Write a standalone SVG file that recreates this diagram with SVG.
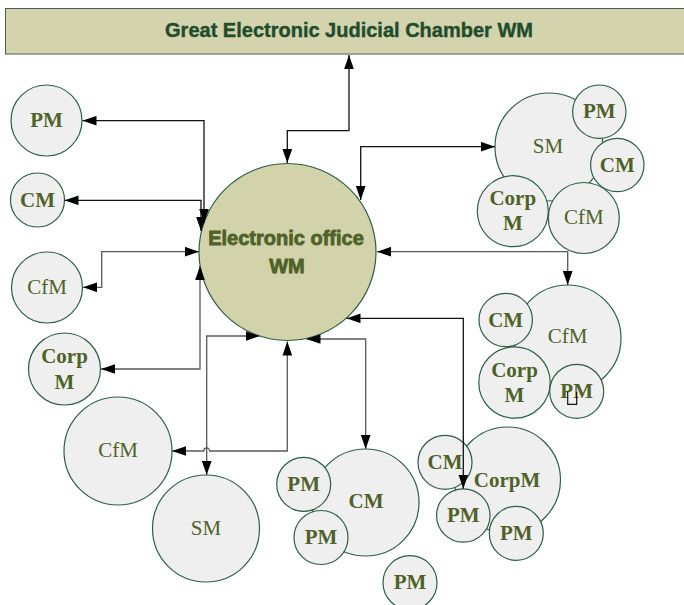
<svg xmlns="http://www.w3.org/2000/svg" width="684" height="605" viewBox="0 0 684 605">
<style>
.n{fill:#efefef;stroke:#2f5e44;stroke-width:1.2}
.c{fill:#d2d3ab;stroke:#2f5e44;stroke-width:1.2}
.t{font-family:"Liberation Serif","Times New Roman",serif;font-size:21px;fill:#4f6228;text-anchor:middle}
.b{font-weight:bold}
.k{fill:none;stroke:#111;stroke-width:1.3;marker-start:url(#a);marker-end:url(#a)}
.g{stroke:#5a5a5a}
</style>
<defs>
<marker id="a" markerUnits="userSpaceOnUse" markerWidth="14" markerHeight="10" refX="13" refY="4.5" orient="auto-start-reverse" viewBox="0 0 13 9">
<path d="M0,0 L13,4.5 L0,9 z" fill="#000"/>
</marker>
</defs>
<rect width="684" height="605" fill="#fff"/>

<g id="chamber">
<rect x="5.5" y="8.5" width="680" height="45.5" fill="#d3d3ad" stroke="#4c5f4c" stroke-width="1"/>
<text x="349" y="37.3" font-family="'Liberation Sans',Arial,sans-serif" font-weight="bold" font-size="20" fill="#1f4d2c" stroke="#1f4d2c" stroke-width="0.4" text-anchor="middle">Great Electronic Judicial Chamber WM</text>
</g>

<g id="office">
<circle class="c" cx="287.5" cy="252" r="88.5"/>
<text x="286" y="245" font-family="'Liberation Sans',Arial,sans-serif" font-weight="bold" font-size="20" fill="#4f6228" stroke="#4f6228" stroke-width="0.8" text-anchor="middle">Electronic office</text>
<text x="287" y="273" font-family="'Liberation Sans',Arial,sans-serif" font-weight="bold" font-size="20" fill="#4f6228" stroke="#4f6228" stroke-width="0.8" text-anchor="middle">WM</text>
</g>

<g id="left-pm"><circle class="n" cx="46.5" cy="120.5" r="35.5"/><text class="t b" x="46.5" y="127">PM</text></g>
<g id="left-cm"><circle class="n" cx="37.5" cy="200" r="27"/><text class="t b" x="37.5" y="207">CM</text></g>
<g id="left-cfm"><circle class="n" cx="47" cy="287.5" r="35.5"/><text class="t" x="47" y="294">CfM</text></g>
<g id="left-corpm"><circle class="n" cx="64.5" cy="369" r="36"/><text class="t b" x="64.5" y="363">Corp</text><text class="t b" x="64.5" y="389">M</text></g>
<g id="left-cfm-big"><circle class="n" cx="118" cy="451" r="54"/><text class="t" x="118" y="457">CfM</text></g>
<g id="bottom-sm"><circle class="n" cx="206" cy="528.5" r="53.5"/><text class="t" x="206" y="535">SM</text></g>

<g id="cluster-sm">
<circle class="n" cx="549" cy="147" r="54"/><text class="t" x="548" y="153">SM</text>
<circle class="n" cx="599.3" cy="111.7" r="26.7"/><text class="t b" x="599.3" y="118.3">PM</text>
<circle class="n" cx="617.3" cy="165" r="26.7"/><text class="t b" x="617.3" y="171.7">CM</text>
<circle class="n" cx="512.8" cy="211.2" r="35.5"/><text class="t b" x="512.8" y="205">Corp</text><text class="t b" x="512.8" y="230">M</text>
<circle class="n" cx="583.8" cy="218" r="35.5"/><text class="t" x="583.8" y="224">CfM</text>
</g>

<g id="cluster-cfm">
<circle class="n" cx="567.7" cy="338.3" r="53.3"/><text class="t" x="567.7" y="343.3">CfM</text>
<circle class="n" cx="505.7" cy="320" r="26.7"/><text class="t b" x="505.7" y="326.7">CM</text>
<circle class="n" cx="514.5" cy="382.5" r="35.7"/><text class="t b" x="514.5" y="376.7">Corp</text><text class="t b" x="514.5" y="401.7">M</text>
<circle class="n" cx="576.7" cy="391.3" r="27"/><text class="t b" x="576.7" y="398.3">PM</text>
<path d="M567.7,391.7 V404.3 H576.7 V391.7" fill="none" stroke="#111" stroke-width="1.2"/>
</g>

<g id="cluster-cm">
<circle class="n" cx="365.5" cy="502.5" r="53.5"/><text class="t b" x="366" y="508">CM</text>
<circle class="n" cx="303.7" cy="484.3" r="27"/><text class="t b" x="303.7" y="490.7">PM</text>
<circle class="n" cx="321" cy="537.5" r="27"/><text class="t b" x="321" y="544">PM</text>
</g>

<g id="lone-pm"><circle class="n" cx="410" cy="582.7" r="27"/><text class="t b" x="410" y="588.5">PM</text></g>

<g id="cluster-corpm">
<circle class="n" cx="507.5" cy="480" r="53"/><text class="t b" x="507" y="486.7">CorpM</text>
<circle class="n" cx="445" cy="462.3" r="27"/><text class="t b" x="445" y="469">CM</text>
<circle class="n" cx="463.3" cy="515.5" r="26.7"/><text class="t b" x="463.3" y="521.7">PM</text>
<circle class="n" cx="516.3" cy="533.3" r="27"/><text class="t b" x="516.3" y="540">PM</text>
</g>

<g id="connectors">
<path class="k" d="M349,55 V130.7 H287.3 V163"/>
<path class="k" d="M495,146.7 H360.7 V200"/>
<path class="k g" d="M377,251.7 H567.7 V285"/>
<path class="k" d="M82.5,120.7 H204 V223"/>
<path class="k" d="M64.5,200.3 H201 V231"/>
<path class="k g" d="M199,251.7 H101.7 V287.3 H83"/>
<path class="k g" d="M200,266 V369 H101"/>
<path class="k g" d="M172,451 H203.7 A3,3 0 0 1 209.7,451 H287.3 V341.5"/>
<path class="k g" d="M259.6,336 H206.7 V475"/>
<path class="k g" d="M306.5,339 H365.7 V449"/>
<path class="k" d="M346.5,318.3 H463.3 V488.7"/>
</g>
</svg>
